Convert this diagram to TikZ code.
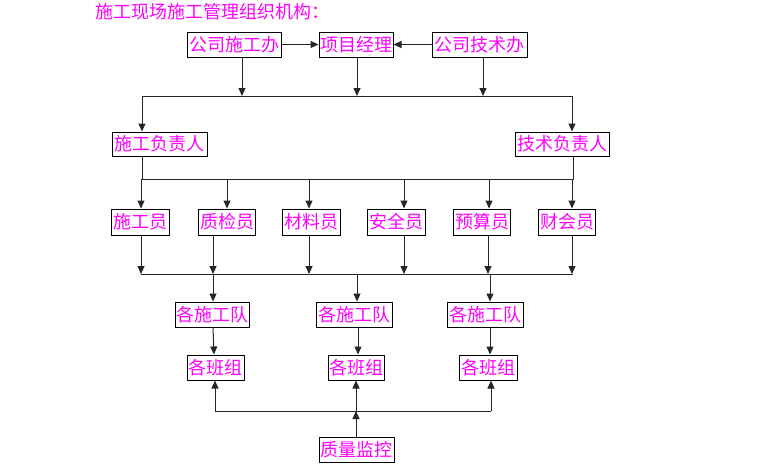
\documentclass[tikz,border=0pt]{standalone}
\usepackage{fontspec}
\setmainfont{Noto Sans CJK SC}
\usetikzlibrary{arrows.meta}
\definecolor{mag}{HTML}{FF00FF}
\begin{document}
\begin{tikzpicture}[x=1pt,y=-1pt,
  box/.style={draw=black,line width=1pt,text=mag,font=\fontsize{18}{18}\selectfont,inner sep=0pt,minimum height=25pt,anchor=center},
  ln/.style={line width=1pt,draw=black!85},
  arr/.style={ln,-{Triangle[length=8pt,width=7pt]}}]
\useasboundingbox (0,0) rectangle (760,466);
\node[anchor=west,text=mag,font=\fontsize{18}{18}\selectfont] (title) at (92,12) {施工现场施工管理组织机构：};
% top row
\node[box,minimum width=94pt] (gsb) at (234,44.5) {公司施工办};
\node[box,minimum width=74pt] (xmjl) at (356,44.5) {项目经理};
\node[box,minimum width=95pt] (jsb) at (479.5,44.5) {公司技术办};
\draw[arr] (gsb.east) -- (xmjl.west);
\draw[arr] (jsb.west) -- (xmjl.east);
\coordinate (b1L) at (142,96);
\coordinate (b1R) at (572,96);
\draw[ln] (b1L) -- (b1R);
\draw[arr] ([xshift=8pt]gsb.south) -- ([xshift=8pt]gsb.south |- b1L);
\draw[arr] ([xshift=1pt]xmjl.south) -- ([xshift=1pt]xmjl.south |- b1L);
\draw[arr] ([xshift=3.5pt]jsb.south) -- ([xshift=3.5pt]jsb.south |- b1L);
% second row
\node[box,minimum width=95pt,minimum height=24pt] (sgfzr) at (159.5,144) {施工负责人};
\node[box,minimum width=94pt,minimum height=24pt] (jsfzr) at (562,144) {技术负责人};
\draw[arr] (b1L) -- (b1L |- sgfzr.north);
\draw[arr] (b1R) -- (b1R |- jsfzr.north);
\coordinate (b2L) at (142,179);
\coordinate (b2R) at (573,179);
\draw[ln] (b1L |- sgfzr.south) -- (b2L) -- (b2R) -- (b2R |- jsfzr.south);
% staff row
\foreach \n/\x/\t in {s1/140.5/施工员,s2/227/质检员,s3/311.5/材料员,s4/396.5/安全员,s5/482/预算员,s6/567/财会员}
  \node[box,minimum width=57.5pt,minimum height=26pt] (\n) at (\x,222) {\t};
\foreach \n/\x in {s1/141,s2/227,s3/309,s4/404,s5/489,s6/572}
  \draw[arr] (\x,179) -- (\n.north -| \x,0);
\coordinate (b3L) at (141,274);
\coordinate (b3R) at (573,274);
\draw[ln] (b3L) -- (b3R);
\foreach \n/\x in {s1/141,s2/213,s3/309,s4/404,s5/488,s6/572}
  \draw[arr] (\n.south -| \x,0) -- (\x,274);
% teams
\node[box,minimum width=74pt] (t1) at (212,314.5) {各施工队};
\node[box,minimum width=76pt] (t2) at (354,314.5) {各施工队};
\node[box,minimum width=76pt] (t3) at (485,314.5) {各施工队};
\foreach \n/\x in {t1/213,t2/357,t3/490}
  \draw[arr] (\x,274) -- (\n.north -| \x,0);
% groups
\node[box,minimum width=57pt] (g1) at (215.5,367.5) {各班组};
\node[box,minimum width=56pt] (g2) at (356,367.5) {各班组};
\node[box,minimum width=58pt] (g3) at (488,367.5) {各班组};
\draw[arr] (t1.south -| 213,0) -- (g1.north -| 214,0);
\draw[arr] (t2.south -| 358,0) -- (g2.north -| 358,0);
\draw[arr] (t3.south -| 490,0) -- (g3.north -| 490,0);
% quality
\coordinate (b4L) at (215,411);
\coordinate (b4M) at (356,411);
\coordinate (b4R) at (491,411);
\draw[ln] (b4L) -- (b4R);
\draw[arr] (b4L) -- (b4L |- g1.south);
\draw[arr] (b4M) -- (b4M |- g2.south);
\draw[arr] (b4R) -- (b4R |- g3.south);
\node[box,minimum width=75pt] (zljk) at (356.5,449.5) {质量监控};
\draw[arr] (zljk.north -| b4M) -- (b4M);
\end{tikzpicture}
\end{document}
